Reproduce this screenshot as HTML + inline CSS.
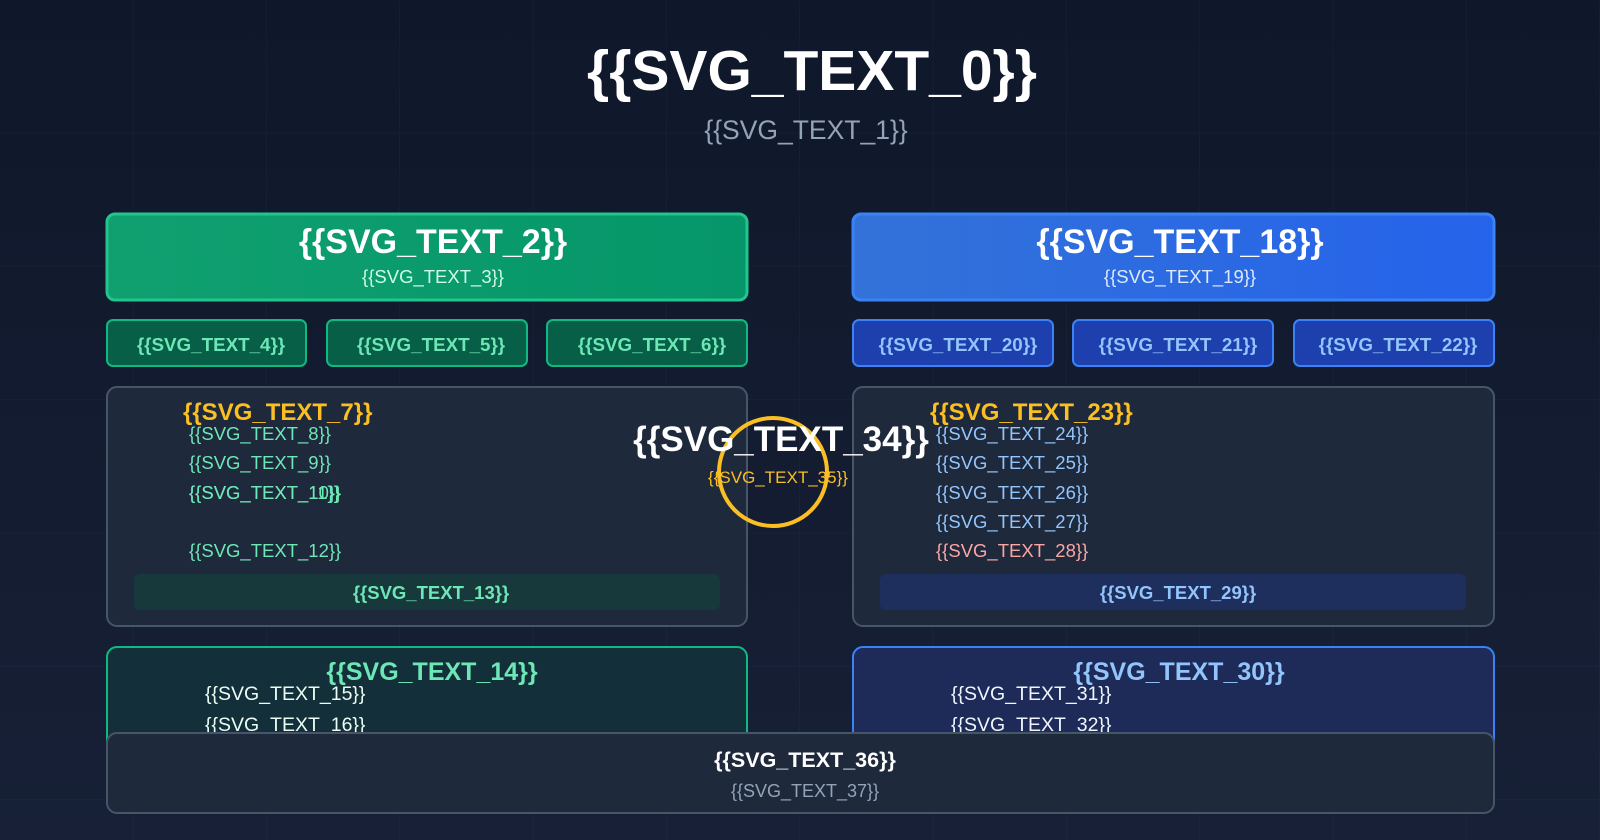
<!DOCTYPE html>
<html><head><meta charset="utf-8"><style>
html,body{margin:0;padding:0;background:#111a2e;}
svg{display:block;font-family:"Liberation Sans",sans-serif;}
</style></head><body>
<svg width="1600" height="840" viewBox="0 0 1600 840" xmlns="http://www.w3.org/2000/svg">
<defs>
<linearGradient id="bg" x1="0" y1="0" x2="0" y2="1"><stop offset="0" stop-color="#0f172a"/><stop offset="1" stop-color="#172036"/></linearGradient>
<pattern id="grid" width="133.33" height="133.33" patternUnits="userSpaceOnUse"><path d="M133.33 0V133.33M0 133.33H133.33" fill="none" stroke="#ffffff" stroke-opacity="0.045" stroke-width="1"/></pattern>
<linearGradient id="gh" x1="0" y1="0" x2="1" y2="0"><stop offset="0" stop-color="#10a070"/><stop offset="1" stop-color="#059669"/></linearGradient>
<linearGradient id="bh" x1="0" y1="0" x2="1" y2="0"><stop offset="0" stop-color="#3372d8"/><stop offset="1" stop-color="#2563eb"/></linearGradient>
</defs>
<rect width="1600" height="840" fill="url(#bg)"/>
<rect width="1600" height="840" fill="url(#grid)"/>
<text x="812" y="90" text-anchor="middle" font-size="57" font-weight="bold" fill="#ffffff">{{SVG_TEXT_0}}</text>
<text x="806" y="139" text-anchor="middle" font-size="26.5" fill="#94a3b8">{{SVG_TEXT_1}}</text>

<rect x="107" y="214" width="640" height="86" rx="8" fill="url(#gh)" stroke="#22c58e" stroke-width="3"/>
<text x="433" y="253" text-anchor="middle" font-size="34" font-weight="bold" fill="#fff">{{SVG_TEXT_2}}</text>
<text x="433" y="283" text-anchor="middle" font-size="18.5" fill="#d1fae5">{{SVG_TEXT_3}}</text>
<rect x="853" y="214" width="641" height="86" rx="8" fill="url(#bh)" stroke="#3b82f6" stroke-width="3"/>
<text x="1180" y="253" text-anchor="middle" font-size="34" font-weight="bold" fill="#fff">{{SVG_TEXT_18}}</text>
<text x="1180" y="283" text-anchor="middle" font-size="18.5" fill="#dbeafe">{{SVG_TEXT_19}}</text>

<g stroke-width="2">
<rect x="107" y="320" width="199" height="46" rx="6" fill="#065f46" stroke="#10b981"/>
<rect x="327" y="320" width="200" height="46" rx="6" fill="#065f46" stroke="#10b981"/>
<rect x="547" y="320" width="200" height="46" rx="6" fill="#065f46" stroke="#10b981"/>
<rect x="853" y="320" width="200" height="46" rx="6" fill="#1e40af" stroke="#3b82f6"/>
<rect x="1073" y="320" width="200" height="46" rx="6" fill="#1e40af" stroke="#3b82f6"/>
<rect x="1294" y="320" width="200" height="46" rx="6" fill="#1e40af" stroke="#3b82f6"/>
</g>
<g font-size="18.8" font-weight="bold" text-anchor="middle">
<text x="211" y="351" fill="#6ee7b7">{{SVG_TEXT_4}}</text>
<text x="431" y="351" fill="#6ee7b7">{{SVG_TEXT_5}}</text>
<text x="652" y="351" fill="#6ee7b7">{{SVG_TEXT_6}}</text>
<text x="958" y="351" fill="#93c5fd">{{SVG_TEXT_20}}</text>
<text x="1178" y="351" fill="#93c5fd">{{SVG_TEXT_21}}</text>
<text x="1398" y="351" fill="#93c5fd">{{SVG_TEXT_22}}</text>
</g>

<rect x="107" y="387" width="640" height="239" rx="10" fill="#1e293b" stroke="#475569" stroke-width="2"/>
<rect x="853" y="387" width="641" height="239" rx="10" fill="#1e293b" stroke="#475569" stroke-width="2"/>
<text x="183" y="420" font-size="24" font-weight="bold" fill="#fbbf24">{{SVG_TEXT_7}}</text>
<g font-size="18.5" fill="#6ee7b7">
<text x="189" y="440">{{SVG_TEXT_8}}</text>
<text x="189" y="469">{{SVG_TEXT_9}}</text>
<text x="189" y="499">{{SVG_TEXT_10}}</text>
<text x="189" y="499">{{SVG_TEXT_11}}</text>
<text x="189" y="557">{{SVG_TEXT_12}}</text>
</g>
<rect x="134" y="574" width="586" height="36" rx="6" fill="#17393b"/>
<text x="431" y="599" text-anchor="middle" font-size="18.5" font-weight="bold" fill="#6ee7b7">{{SVG_TEXT_13}}</text>

<text x="930" y="420" font-size="24" font-weight="bold" fill="#fbbf24">{{SVG_TEXT_23}}</text>
<g font-size="18.5" fill="#93c5fd">
<text x="936" y="440">{{SVG_TEXT_24}}</text>
<text x="936" y="469">{{SVG_TEXT_25}}</text>
<text x="936" y="499">{{SVG_TEXT_26}}</text>
<text x="936" y="528">{{SVG_TEXT_27}}</text>
<text x="936" y="557" fill="#fca5a5">{{SVG_TEXT_28}}</text>
</g>
<rect x="880" y="574" width="586" height="36" rx="6" fill="#1e2f5e"/>
<text x="1178" y="599" text-anchor="middle" font-size="18.5" font-weight="bold" fill="#93c5fd">{{SVG_TEXT_29}}</text>

<circle cx="773" cy="472" r="54" fill="none" stroke="#fbbf24" stroke-width="4"/>
<text x="781" y="451" text-anchor="middle" font-size="35" font-weight="bold" fill="#ffffff">{{SVG_TEXT_34}}</text>
<text x="778" y="483" text-anchor="middle" font-size="17" fill="#fbbf24">{{SVG_TEXT_35}}</text>

<rect x="107" y="647" width="640" height="140" rx="10" fill="#13303a" stroke="#10b981" stroke-width="2"/>
<text x="432" y="680" text-anchor="middle" font-size="25" font-weight="bold" fill="#6ee7b7">{{SVG_TEXT_14}}</text>
<text x="205" y="700" font-size="19.5" fill="#ecfdf5">{{SVG_TEXT_15}}</text>
<text x="205" y="731" font-size="19.5" fill="#ecfdf5">{{SVG_TEXT_16}}</text>
<rect x="853" y="647" width="641" height="140" rx="10" fill="#1e2b58" stroke="#3b82f6" stroke-width="2"/>
<text x="1179" y="680" text-anchor="middle" font-size="25" font-weight="bold" fill="#93c5fd">{{SVG_TEXT_30}}</text>
<text x="951" y="700" font-size="19.5" fill="#eff6ff">{{SVG_TEXT_31}}</text>
<text x="951" y="731" font-size="19.5" fill="#eff6ff">{{SVG_TEXT_32}}</text>

<rect x="107" y="733" width="1387" height="80" rx="10" fill="#1e293b" stroke="#475569" stroke-width="2"/>
<text x="805" y="767" text-anchor="middle" font-size="21.5" font-weight="bold" fill="#ffffff">{{SVG_TEXT_36}}</text>
<text x="805" y="797" text-anchor="middle" font-size="18" fill="#94a3b8">{{SVG_TEXT_37}}</text>
</svg>
</body></html>
